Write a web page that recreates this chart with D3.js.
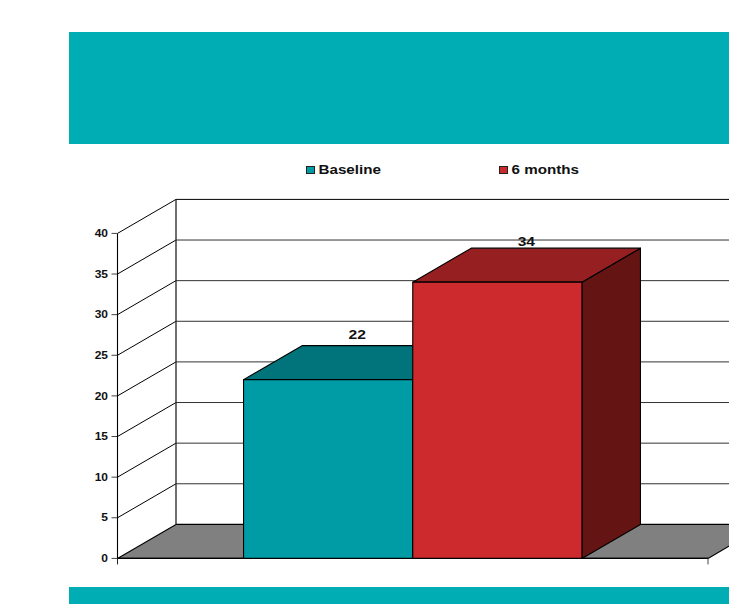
<!DOCTYPE html>
<html><head><meta charset="utf-8">
<script src="https://cdn.jsdelivr.net/npm/d3@7"></script>
<style>html,body{margin:0;padding:0;background:#fff;overflow:hidden}svg{display:block}
text{font-family:"Liberation Sans",Arial,sans-serif;font-weight:bold;fill:#111}</style>
</head><body><svg id="c" width="729" height="604"></svg>
<script>
const categories = ["Baseline", "6 months"];
const values = [22, 34];
const yTicks = [0, 5, 10, 15, 20, 25, 30, 35, 40];
const frontColors = ["#009ca5", "#cc2a2c"];
const topColors = ["#00747a", "#961f21"];
const sideColors = ["#004e52", "#651414"];
const labelGaps = [6.5, 2];

const svg = d3.select("#c");
const dx = 58.5, dy = -34;
const y = d3.scaleLinear().domain([0, 40]).range([558.4, 233.4]);
const x = d3.scaleBand().domain(categories).range([117.5, 708]).paddingInner(0).paddingOuter(0.745);
const L = 117.5, R = 708;
const poly = (pts, fill) => svg.append("polygon").attr("points", pts.map(p => p.join(",")).join(" "))
  .attr("fill", fill).attr("stroke", "#000").attr("stroke-width", 1.1).attr("stroke-linejoin", "round");
const line = (a, b, w = 1, c = "#000") => svg.append("line").attr("x1", a[0]).attr("y1", a[1]).attr("x2", b[0]).attr("y2", b[1])
  .attr("stroke", c).attr("stroke-width", w);
// Text in the reference is horizontally stretched, so widen it around its anchor.
const wideText = (px, py, size, str, anchor, stretch) => svg.append("text")
  .attr("transform", `translate(${px},${py}) scale(${stretch},1)`)
  .attr("text-anchor", anchor).attr("font-size", size).text(str);

// banners
svg.append("rect").attr("x", 69).attr("y", 32).attr("width", 660).attr("height", 112).attr("fill", "#00adb4");
svg.append("rect").attr("x", 69).attr("y", 587).attr("width", 660).attr("height", 17).attr("fill", "#00adb4");

// floor
poly([[L, y(0)], [L + dx, y(0) + dy], [R + dx, y(0) + dy], [R, y(0)]], "#808080");

// walls and gridlines
yTicks.forEach(t => {
  if (t > 0) line([L, y(t)], [L + dx, y(t) + dy], 1);
  if (t > 0) line([L + dx, y(t) + dy], [R + dx, y(t) + dy], 1, t === 40 ? "#000" : "#333");
  line([L - 6, y(t)], [L, y(t)], 1, "#444");
});
line([L, y(0)], [L, y(40)], 1.1);
line([L + dx, y(0) + dy], [L + dx, y(40) + dy], 1.3, "#222");
line([L, y(0)], [R, y(0)], 1.3);
line([R, y(0)], [R, y(0) + 6], 1, "#444");
line([L, y(0)], [L, y(0) + 6], 1, "#222");

yTicks.forEach(t => wideText(108, y(t) + 3.6, 10, t, "end", 1.2));

// bars
categories.forEach((c, i) => {
  const x0 = x(c), x1 = x0 + x.bandwidth(), yt = y(values[i]), yb = y(0);
  poly([[x1, yb], [x1 + dx, yb + dy], [x1 + dx, yt + dy], [x1, yt]], sideColors[i]);
  poly([[x0, yt], [x0 + dx, yt + dy], [x1 + dx, yt + dy], [x1, yt]], topColors[i]);
  poly([[x0, yb], [x0, yt], [x1, yt], [x1, yb]], frontColors[i]);
  wideText(x0 + x.bandwidth() / 2 + 29, yt + dy - labelGaps[i], 13, values[i], "middle", 1.2);
});

// legend
const legendX = d3.scaleOrdinal().domain(categories).range([306, 499]);
categories.forEach((c, i) => {
  svg.append("rect").attr("x", legendX(c) + .5).attr("y", 166.5).attr("width", 8).attr("height", 7)
    .attr("fill", frontColors[i]).attr("stroke", "#222").attr("stroke-width", 1);
  wideText(legendX(c) + 12.5, 173.5, 13, c, "start", 1.17);
});
</script></body></html>
